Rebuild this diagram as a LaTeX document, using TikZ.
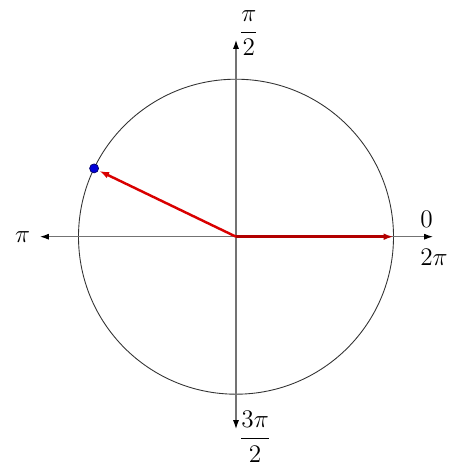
\documentclass[tikz,border=0pt]{standalone}
\usetikzlibrary{arrows.meta,calc}
\begin{document}
\begin{tikzpicture}[x=0.02cm,y=-0.02cm,
  axis/.style={draw=black!55, line width=0.6pt, -{Latex[length=5pt,width=3.4pt,fill=black,color=black]}},
  unit/.style={draw=black!80, line width=0.5pt},
  vec/.style={line width=1.4pt, -{Latex[length=5.6pt,width=3.8pt]}},
  lab/.style={font=\fontsize{13.5}{16}\selectfont, inner sep=0pt},
  dot/.style={circle, fill=blue!85!black, draw=blue!40!black, line width=0.4pt, minimum size=0.18cm, inner sep=0pt}]
  \useasboundingbox (0,0) rectangle (474,474);
  \coordinate (O) at (236,236.7);
  \coordinate (L) at (40,236.7);
  \coordinate (R) at (433,236.7);
  \coordinate (T) at (236,40);
  \coordinate (B) at (236,429);
  \coordinate (E) at (393.5,236.7);
  \draw[unit] (O) circle[radius=157.5];
  \draw[axis] (O) -- (L);
  \draw[axis] (O) -- (R);
  \draw[axis] (O) -- (T);
  \draw[axis] (O) -- (B);
  \node[dot] (P) at ($(O)+(205.7:157.5)$) {};
  \draw[vec, red!70!black] (O) -- (E);
  \draw[vec, red!85!black, shorten >=0.5pt] (O) -- (P);
  \node[lab] (pi) at (22.5,237) {$\pi$};
  \node[lab, anchor=west] (zero) at (420,219) {$0$};
  \node[lab, anchor=west] (twopi) at (420,257) {$2\pi$};
  \node[lab, anchor=west] (half) at (239,33) {$\displaystyle\frac{\pi}{2}$};
  \node[lab, anchor=west] (threehalf) at (239,437) {$\displaystyle\frac{3\pi}{2}$};
\end{tikzpicture}
\end{document}
